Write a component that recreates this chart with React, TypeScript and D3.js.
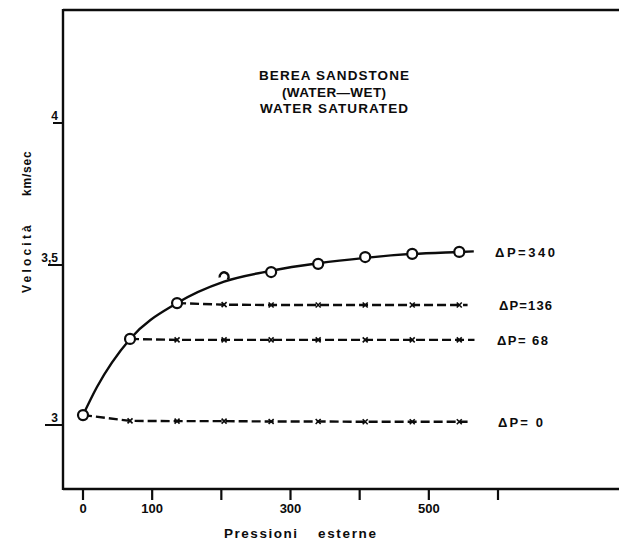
import React from "react";
import * as d3 from "d3";

// External pressure steps (multiples of 68) and measured velocities
const PRESSURES = [0, 68, 136, 204, 272, 340, 408, 476, 544];
const V_DP340 = [3.031, 3.269, 3.381, 3.463, 3.478, 3.504, 3.528, 3.539, 3.546];

// Smooth trend through the ΔP=340 measurements
const FIT_X = [0, 20, 68, 136, 204, 272, 340, 408, 476, 544, 565];
const FIT_V = [3.031, 3.118, 3.269, 3.381, 3.448, 3.482, 3.506, 3.525, 3.539, 3.546, 3.548];

// Constant differential-pressure runs
const DP136_X = [136, 204, 272, 340, 408, 476, 544, 556];
const DP136_V = [3.381, 3.376, 3.375, 3.375, 3.375, 3.375, 3.375, 3.375];
const DP68_X = [68, 136, 204, 272, 340, 408, 476, 544, 566];
const DP68_V = [3.269, 3.266, 3.266, 3.266, 3.266, 3.266, 3.266, 3.266, 3.266];
const DP0_X = [0, 68, 136, 204, 272, 340, 408, 476, 544, 556];
const DP0_V = [3.031, 3.013, 3.012, 3.012, 3.011, 3.011, 3.010, 3.010, 3.010, 3.010];

const X_TICKS = [0, 100, 200, 300, 400, 500, 600];
const X_TICK_LABELS = ["0", "100", "", "300", "", "500", ""];
const Y_TICKS = [3, 3.5, 4];
const Y_TICK_LABELS = ["3", "3,5", "4"];

const SERIES_LABELS = ["ΔP=340", "ΔP=136", "ΔP= 68", "ΔP= 0"];
const TITLE_LINES = ["BEREA SANDSTONE", "(WATER—WET)", "WATER SATURATED"];
const X_TITLE_WORDS = ["Pressioni", "esterne"];
const Y_TITLE_WORDS = ["Velocità", "km/sec"];

const W = 619;
const H = 541;
const FONT = "'Liberation Sans', Arial, sans-serif";
const INK = "#0c0c0c";

export default function App() {
  const x = d3.scaleLinear().domain([0, 600]).range([83, 498]);
  // hand-drawn axis: the three labelled ticks are not evenly spaced
  const y = d3
    .scaleLinear()
    .domain([2.8, 3, 3.5, 4, 4.4])
    .range([489, 425, 265, 123, 10]);

  const left = 63;
  const top = 10;
  const bottom = 489;

  const smooth = d3
    .line<number>()
    .x((_, i) => x(FIT_X[i]))
    .y((v) => y(v))
    .curve(d3.curveMonotoneX);

  const flat = (xs: number[]) =>
    d3
      .line<number>()
      .x((_, i) => x(xs[i]))
      .y((v) => y(v))
      .curve(d3.curveLinear);

  const dashed = [
    { xs: DP136_X, vs: DP136_V },
    { xs: DP68_X, vs: DP68_V },
    { xs: DP0_X, vs: DP0_V },
  ];

  const labelY = [
    y(V_DP340[V_DP340.length - 1]),
    y(DP136_V[DP136_V.length - 1]),
    y(DP68_V[DP68_V.length - 1]),
    y(DP0_V[DP0_V.length - 1]),
  ];
  const labelLen = [60, 53, 51, 45];
  const labelDx = [-3, 1, -1, 0];

  const cross = (cx: number, cy: number, s = 2.5) =>
    `M${cx - s},${cy - s}L${cx + s},${cy + s}M${cx - s},${cy + s}L${cx + s},${cy - s}`;

  const tickStart = [45, 48, 53];

  // word placement for the spaced-out axis titles
  const xTitle = [
    { x: 224, len: 73 },
    { x: 318, len: 58 },
  ];
  const yTitle = [
    { y: 293, spacing: 3.2 },
    { y: 196, spacing: 0.8 },
  ];

  return (
    <svg
      width={W}
      height={H}
      viewBox={`0 0 ${W} ${H}`}
      style={{ position: "absolute", left: 0, top: 0, background: "#fff" }}
    >
      <rect width={W} height={H} fill="#fff" />

      {/* frame */}
      <g stroke={INK} strokeWidth={2.4} fill="none">
        <line x1={left} y1={top} x2={W} y2={top} />
        <line x1={left} y1={top - 1} x2={left} y2={bottom + 1} />
        <line x1={left} y1={bottom} x2={W} y2={bottom} />
      </g>

      {/* x axis ticks */}
      {X_TICKS.map((t, i) => (
        <g key={"xt" + t}>
          <line
            x1={x(t)}
            x2={x(t)}
            y1={bottom}
            y2={bottom + 11}
            stroke={INK}
            strokeWidth={2.2}
          />
          {X_TICK_LABELS[i] && (
            <text
              x={x(t)}
              y={bottom + 24}
              textAnchor="middle"
              fontFamily={FONT}
              fontWeight="bold"
              fontSize={13}
              fill={INK}
            >
              {X_TICK_LABELS[i]}
            </text>
          )}
        </g>
      ))}

      {/* y axis ticks: short strokes with the value written above */}
      {Y_TICKS.map((t, i) => (
        <g key={"yt" + t}>
          <line
            x1={tickStart[i]}
            x2={left}
            y1={y(t)}
            y2={y(t)}
            stroke={INK}
            strokeWidth={2}
          />
          <text
            x={58}
            y={y(t) - 3}
            textAnchor="end"
            fontFamily={FONT}
            fontWeight="bold"
            fontSize={12}
            fill={INK}
          >
            {Y_TICK_LABELS[i]}
          </text>
        </g>
      ))}

      {/* axis titles */}
      {Y_TITLE_WORDS.map((wd, i) => (
        <text
          key={wd}
          transform={`translate(31,${yTitle[i].y}) rotate(-90)`}
          fontFamily={FONT}
          fontWeight="bold"
          fontSize={12}
          letterSpacing={yTitle[i].spacing}
          fill={INK}
        >
          {wd}
        </text>
      ))}
      {X_TITLE_WORDS.map((wd, i) => (
        <text
          key={wd}
          x={xTitle[i].x}
          y={538}
          fontFamily={FONT}
          fontWeight="bold"
          fontSize={13.5}
          fill={INK}
          textLength={xTitle[i].len}
          lengthAdjust="spacing"
        >
          {wd}
        </text>
      ))}

      {/* title block */}
      {TITLE_LINES.map((line, i) => (
        <text
          key={line}
          x={334}
          y={80 + i * 16.5}
          textAnchor="middle"
          fontFamily={FONT}
          fontWeight="bold"
          fontSize={13.5}
          fill={INK}
          textLength={[150, 104, 148][i]}
          lengthAdjust="spacing"
        >
          {line}
        </text>
      ))}

      {/* dashed constant-ΔP runs */}
      {dashed.map((s, k) => (
        <g key={"d" + k}>
          <path
            d={flat(s.xs)(s.vs) || ""}
            fill="none"
            stroke={INK}
            strokeWidth={2.4}
            strokeDasharray="9,4"
          />
          {s.xs.slice(1, -1).map((px, j) => (
            <path
              key={j}
              d={cross(x(px), y(s.vs[j + 1]))}
              stroke={INK}
              strokeWidth={1.6}
            />
          ))}
        </g>
      ))}

      {/* ΔP=340 curve */}
      <path
        d={smooth(FIT_V) || ""}
        fill="none"
        stroke={INK}
        strokeWidth={2.4}
      />
      {PRESSURES.map((p, i) =>
        i === 3 ? (
          <path
            key={p}
            d={
              d3.arc()({
                innerRadius: 4.5,
                outerRadius: 4.5,
                startAngle: -Math.PI * 0.55,
                endAngle: Math.PI * 0.7,
              }) || ""
            }
            transform={`translate(${x(p)},${y(V_DP340[i])})`}
            fill="none"
            stroke={INK}
            strokeWidth={2.4}
          />
        ) : (
          <circle
            key={p}
            cx={x(p)}
            cy={y(V_DP340[i])}
            r={5}
            fill="#fff"
            stroke={INK}
            strokeWidth={2.2}
          />
        )
      )}

      {/* series labels */}
      {SERIES_LABELS.map((lab, i) => (
        <text
          key={lab}
          x={x(600) + labelDx[i]}
          y={labelY[i] + 5}
          fontFamily={FONT}
          fontWeight="bold"
          fontSize={13}
          fill={INK}
          textLength={labelLen[i]}
          lengthAdjust="spacing"
          style={{ whiteSpace: "pre" }}
        >
          {lab}
        </text>
      ))}
    </svg>
  );
}
